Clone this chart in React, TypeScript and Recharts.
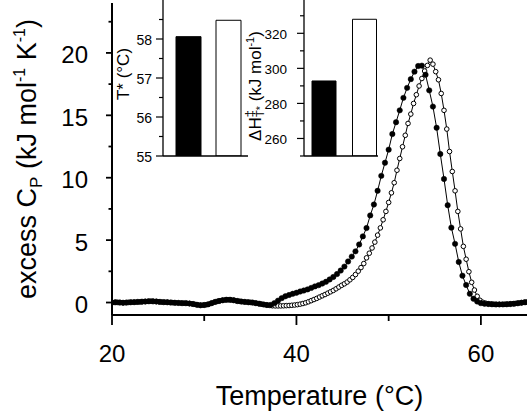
import React from 'react';
import { LineChart, Line, XAxis, YAxis, BarChart, Bar, Cell } from 'recharts';

const FONT = '"Liberation Sans", Arial, Helvetica, sans-serif';

// filled circles: temperature (°C) and excess Cp (kJ mol-1 K-1)
const blackTemp = [
  20, 20.4, 20.8, 21.2, 21.6, 22, 22.4, 22.8, 23.2, 23.6,
  24, 24.4, 24.8, 25.2, 25.6, 26, 26.4, 26.8, 27.2, 27.6,
  28, 28.4, 28.8, 29.2, 29.6, 30, 30.4, 30.8, 31.2, 31.6,
  32, 32.4, 32.8, 33.2, 33.6, 34, 34.4, 34.8, 35.2, 35.6,
  36, 36.4, 36.8, 37.2, 37.6, 38, 38.4, 38.8, 39.2, 39.6,
  40, 40.4, 40.8, 41.2, 41.6, 42, 42.4, 42.8, 43.2, 43.6,
  44, 44.4, 44.8, 45.2, 45.6, 46, 46.4, 46.8, 47.2, 47.6,
  48, 48.4, 48.8, 49.2, 49.6, 50, 50.4, 50.8, 51.2, 51.6,
  52, 52.4, 52.8, 53.2, 53.6, 54, 54.4, 54.8, 55.2, 55.6,
  56, 56.4, 56.8, 57.2, 57.6, 58, 58.4, 58.8, 59.2, 59.6,
  60, 60.4, 60.8, 61.2, 61.6, 62, 62.4, 62.8, 63.2, 63.6,
  64, 64.4, 64.8,
];
const blackCp = [
  0, 0.02, 0, -0.02, 0, 0.02, 0.03, 0.05, 0.06, 0.08,
  0.1, 0.1, 0.08, 0.05, 0.03, 0.02, 0, -0.02, -0.03, -0.05,
  -0.05, -0.08, -0.12, -0.18, -0.22, -0.2, -0.15, -0.05, 0.05, 0.12,
  0.18, 0.22, 0.22, 0.18, 0.12, 0.08, 0.05, 0.02, 0, -0.05,
  -0.1, -0.15, -0.2, -0.2, -0.05, 0.15, 0.35, 0.5, 0.6, 0.7,
  0.78, 0.88, 0.96, 1.05, 1.17, 1.29, 1.39, 1.52, 1.66, 1.85,
  2.05, 2.28, 2.56, 2.88, 3.29, 3.68, 4.1, 4.65, 5.3, 5.97,
  6.98, 7.85, 8.95, 10.15, 11.2, 12.25, 13.5, 14.45, 15.4, 16.4,
  17.2, 17.9, 18.5, 18.95, 18.98, 18.25, 17.0, 15.7, 14.0, 11.9,
  9.9, 7.8, 6.0, 4.7, 3.25, 2.15, 1.4, 0.7, 0.3, 0.08,
  -0.05, -0.1, -0.12, -0.14, -0.15, -0.15, -0.15, -0.14, -0.12, -0.1,
  -0.06, -0.02, 0.02,
];

// open circles
const openTemp = [
  20, 20.3, 20.6, 20.9, 21.2, 21.5, 21.8, 22.1, 22.4, 22.7,
  23, 23.3, 23.6, 23.9, 24.2, 24.5, 24.8, 25.1, 25.4, 25.7,
  26, 26.3, 26.6, 26.9, 27.2, 27.5, 27.8, 28.1, 28.4, 28.7,
  29, 29.3, 29.6, 29.9, 30.2, 30.5, 30.8, 31.1, 31.4, 31.7,
  32, 32.3, 32.6, 32.9, 33.2, 33.5, 33.8, 34.1, 34.4, 34.7,
  35, 35.3, 35.6, 35.9, 36.2, 36.5, 36.8, 37.1, 37.4, 37.7,
  38, 38.3, 38.6, 38.9, 39.2, 39.5, 39.8, 40.1, 40.4, 40.7,
  41, 41.3, 41.6, 41.9, 42.2, 42.5, 42.8, 43.1, 43.4, 43.7,
  44, 44.3, 44.6, 44.9, 45.2, 45.5, 45.8, 46.1, 46.4, 46.7,
  47, 47.3, 47.6, 47.9, 48.2, 48.5, 48.8, 49.1, 49.4, 49.7,
  50, 50.3, 50.6, 50.9, 51.2, 51.5, 51.8, 52.1, 52.4, 52.7,
  53, 53.3, 53.6, 53.9, 54.2, 54.5, 54.8, 55.1, 55.4, 55.7,
  56, 56.3, 56.6, 56.9, 57.2, 57.5, 57.8, 58.1, 58.4, 58.7,
  59, 59.3, 59.6, 59.9, 60.2, 60.5, 60.8, 61.1, 61.4, 61.7,
  62, 62.3, 62.6, 62.9, 63.2, 63.5, 63.8, 64.1, 64.4, 64.7,
  65,
];
const openCp = [
  0, 0.01, 0.01, 0, -0.02, -0.01, 0.01, 0.02, 0.03, 0.04,
  0.05, 0.07, 0.08, 0.09, 0.1, 0.09, 0.08, 0.06, 0.04, 0.03,
  0.02, 0, -0.01, -0.02, -0.03, -0.04, -0.05, -0.06, -0.08, -0.11,
  -0.15, -0.19, -0.22, -0.21, -0.18, -0.13, -0.05, 0.03, 0.09, 0.14,
  0.18, 0.21, 0.22, 0.21, 0.18, 0.13, 0.1, 0.07, 0.05, 0.03,
  0.01, -0.01, -0.05, -0.09, -0.13, -0.17, -0.2, -0.23, -0.26, -0.27,
  -0.27, -0.27, -0.26, -0.25, -0.24, -0.22, -0.2, -0.17, -0.13, -0.08,
  -0.02, 0.06, 0.15, 0.24, 0.33, 0.44, 0.54, 0.64, 0.75, 0.86,
  0.97, 1.1, 1.24, 1.38, 1.5, 1.64, 1.82, 2.01, 2.24, 2.51,
  2.8, 3.12, 3.58, 3.95, 4.37, 4.84, 5.4, 5.98, 6.63, 7.3,
  8.02, 8.79, 9.6, 10.6, 11.54, 12.48, 13.4, 14.35, 15.1, 15.95,
  16.65, 17.35, 17.95, 18.55, 19.0, 19.42, 19.1, 18.5, 17.85, 16.75,
  15.4, 13.9, 12.1, 10.5, 8.95, 7.3, 5.9, 4.5, 3.47, 2.47,
  1.62, 1.0, 0.5, 0.18, 0.02, -0.05, -0.1, -0.12, -0.14, -0.15,
  -0.15, -0.15, -0.14, -0.13, -0.11, -0.09, -0.07, -0.04, -0.01, 0.02,
  0.04,
];

const xTicks = [20, 30, 40, 50, 60];
const xLabelled = [20, 40, 60];
const yTicks = [0, 2.5, 5, 7.5, 10, 12.5, 15, 17.5, 20, 22.5];
const yLabelled = [0, 5, 10, 15, 20];

// insets: filled vs open sample
const insetKeys = ['filled', 'open'];
const tStar = [58.06, 58.48];
const dHact = [292.8, 328.0];
const insetFills = ['#000', '#fff'];
const tTicks = [55, 55.5, 56, 56.5, 57, 57.5, 58, 58.5];
const tLabelled = [55, 56, 57, 58];
const hTicks = [250, 260, 270, 280, 290, 300, 310, 320, 330];
const hLabelled = [260, 280, 300, 320];

const blackData = blackTemp.map((t, i) => ({ t, cp: blackCp[i] }));
const openData = openTemp.map((t, i) => ({ t, cp: openCp[i] }));
const tData = insetKeys.map((k, i) => ({ k, v: tStar[i] }));
const hData = insetKeys.map((k, i) => ({ k, v: dHact[i] }));

const makeYTick = (labelled: number[], big: number, small: number, gap: number, size: number, sw: number, dy: number) =>
  (p: any) => {
    const v = p.payload.value;
    const major = labelled.includes(v) || v === 55;
    return (
      <g>
        <line x1={p.x} x2={p.x - (major ? big : small)} y1={p.y} y2={p.y} stroke="#000" strokeWidth={sw} />
        {labelled.includes(v) && (
          <text x={p.x - gap} y={p.y + dy} textAnchor="end" dominantBaseline="central" fontSize={size} fontFamily={FONT} fill="#000">
            {v}
          </text>
        )}
      </g>
    );
  };

const MainXTick = (p: any) => {
  const v = p.payload.value;
  const major = xLabelled.includes(v);
  return (
    <g>
      <line x1={p.x} x2={p.x} y1={p.y} y2={p.y + (major ? 10 : 6)} stroke="#000" strokeWidth={1.8} />
      {major && (
        <text x={p.x} y={p.y + 47} textAnchor="middle" fontSize={24} fontFamily={FONT} fill="#000">
          {v}
        </text>
      )}
    </g>
  );
};

const XTitle = (p: any) => {
  const vb = p.viewBox || { x: 112, y: 315, width: 415, height: 97 };
  return (
    <text x={vb.x + vb.width / 2} y={vb.y + 90} textAnchor="middle" fontSize={27} fontFamily={FONT} fill="#000">
      Temperature (°C)
    </text>
  );
};

const YTitle = (p: any) => {
  const vb = p.viewBox || { x: 0, y: 3, width: 112, height: 312 };
  const cx = vb.x + 36;
  const cy = vb.y + vb.height / 2;
  return (
    <text x={cx} y={cy} transform={`rotate(-90 ${cx} ${cy})`} textAnchor="middle" fontSize={27} fontFamily={FONT} fill="#000">
      excess C<tspan fontSize={17} dy={6}>P</tspan>
      <tspan dy={-6}> (kJ mol</tspan>
      <tspan fontSize={16} dy={-11}>-1</tspan>
      <tspan dy={11}> K</tspan>
      <tspan fontSize={16} dy={-11}>-1</tspan>
      <tspan dy={11}>)</tspan>
    </text>
  );
};

const TTitle = (p: any) => {
  const vb = p.viewBox || { x: 0, y: 0, width: 163, height: 156 };
  const cx = vb.x + vb.width - 34;
  const cy = vb.y + vb.height / 2 - 4;
  return (
    <text x={cx} y={cy} transform={`rotate(-90 ${cx} ${cy})`} textAnchor="middle" fontSize={17} fontFamily={FONT} fill="#000">
      T* (°C)
    </text>
  );
};

const HTitle = (p: any) => {
  const vb = p.viewBox || { x: 0, y: 0, width: 304, height: 156 };
  const cx = vb.x + vb.width - 43;
  const cy = vb.y + vb.height / 2 + 8;
  return (
    <text x={cx} y={cy} transform={`rotate(-90 ${cx} ${cy})`} textAnchor="middle" fontSize={17} fontFamily={FONT} fill="#000">
      ΔH<tspan fontSize={13} dy={-7}>‡</tspan>
      <tspan fontSize={11} dx={-7} dy={10}>T*</tspan>
      <tspan dy={-3}> (kJ mol</tspan>
      <tspan fontSize={11} dy={-7}>-1</tspan>
      <tspan dy={7}>)</tspan>
    </text>
  );
};

export default function App() {
  return (
    <div style={{ position: 'absolute', left: 0, top: 0, width: 531, height: 412, background: '#fff' }}>
      <div style={{ position: 'absolute', left: 0, top: 0 }}>
        <LineChart width={531} height={412} margin={{ top: 3, right: 4, bottom: 0, left: 0 }}>
          <XAxis
            type="number"
            dataKey="t"
            domain={[20, 65]}
            ticks={xTicks}
            interval={0}
            allowDataOverflow
            height={97}
            tickSize={0}
            tickMargin={0}
            tickLine={false}
            axisLine={{ stroke: '#000', strokeWidth: 2 }}
            tick={(p: any) => <MainXTick {...p} />}
            label={(p: any) => <XTitle {...p} />}
          />
          <YAxis
            type="number"
            domain={[-1, 24]}
            ticks={yTicks}
            interval={0}
            allowDataOverflow
            width={112}
            tickSize={0}
            tickMargin={0}
            tickLine={false}
            axisLine={{ stroke: '#000', strokeWidth: 2 }}
            tick={makeYTick(yLabelled, 6, 3.5, 24, 24, 1.8, 2)}
            label={(p: any) => <YTitle {...p} />}
          />
          <Line
            data={openData}
            dataKey="cp"
            type="linear"
            stroke="#000"
            strokeWidth={1}
            dot={{ r: 2.3, fill: '#fff', stroke: '#000', strokeWidth: 1 }}
            activeDot={false}
            isAnimationActive={false}
          />
          <Line
            data={blackData}
            dataKey="cp"
            type="linear"
            stroke="#000"
            strokeWidth={1}
            dot={{ r: 2.7, fill: '#000', stroke: '#000', strokeWidth: 0.5 }}
            activeDot={false}
            isAnimationActive={false}
          />
        </LineChart>
      </div>

      <div style={{ position: 'absolute', left: 0, top: 0 }}>
        <BarChart width={260} height={170} data={tData} margin={{ top: 0, right: 12, bottom: 0, left: 0 }} barSize={25}>
          <XAxis dataKey="k" type="category" height={14} tick={false} tickLine={false} padding={{ left: 5, right: 0 }} axisLine={{ stroke: '#000', strokeWidth: 1.3 }} />
          <YAxis
            type="number"
            domain={[55, 59]}
            ticks={tTicks}
            interval={0}
            allowDataOverflow
            width={163}
            tickSize={0}
            tickMargin={0}
            tickLine={false}
            axisLine={{ stroke: '#000', strokeWidth: 1.3 }}
            tick={makeYTick(tLabelled, 7, 4, 11, 14, 1.2, 1)}
            label={(p: any) => <TTitle {...p} />}
          />
          <Bar dataKey="v" stroke="#000" strokeWidth={1} isAnimationActive={false}>
            {tData.map((d, i) => (
              <Cell key={d.k} fill={insetFills[i]} />
            ))}
          </Bar>
        </BarChart>
      </div>

      <div style={{ position: 'absolute', left: 0, top: 0 }}>
        <BarChart width={400} height={170} data={hData} margin={{ top: 0, right: 22, bottom: 0, left: 0 }} barSize={24}>
          <XAxis dataKey="k" type="category" height={14} tick={false} tickLine={false} padding={{ left: 0, right: -7 }} axisLine={{ stroke: '#000', strokeWidth: 1.3 }} />
          <YAxis
            type="number"
            domain={[250, 339]}
            ticks={hTicks}
            interval={0}
            allowDataOverflow
            width={304}
            tickSize={0}
            tickMargin={0}
            tickLine={false}
            axisLine={{ stroke: '#000', strokeWidth: 1.3 }}
            tick={makeYTick(hLabelled, 7, 4, 17, 13.5, 1.2, 1)}
            label={(p: any) => <HTitle {...p} />}
          />
          <Bar dataKey="v" stroke="#000" strokeWidth={1} isAnimationActive={false}>
            {hData.map((d, i) => (
              <Cell key={d.k} fill={insetFills[i]} />
            ))}
          </Bar>
        </BarChart>
      </div>
    </div>
  );
}
